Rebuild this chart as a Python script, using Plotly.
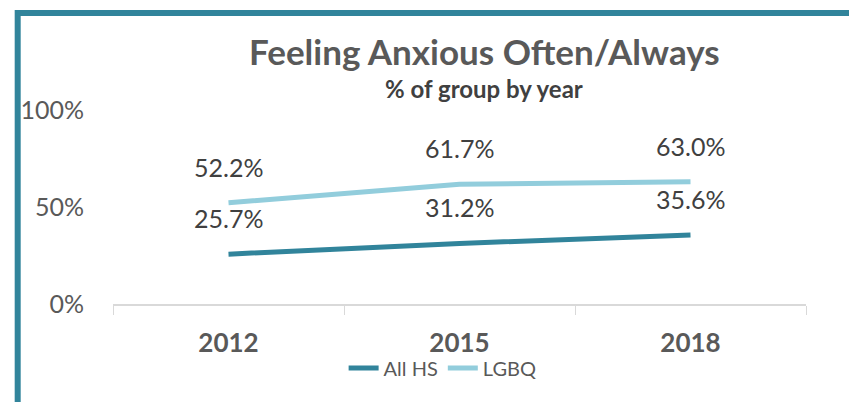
import plotly.graph_objects as go

years = ["2012", "2015", "2018"]
all_hs = [25.7, 31.2, 35.6]
lgbq = [52.2, 61.7, 63.0]
series_names = ["All HS", "LGBQ"]
y_ticks = [0, 50, 100]
y_tick_labels = ["0%", "50%", "100%"]

dark = "#31849B"
light = "#92CDDC"
FONT = "Lato, 'Open Sans', sans-serif"

# page offset (body margin in the viewer)
OFF = 8
W, H = 857, 402
# desired plot-area edges in page pixels
PL, PR, PT, PB = 108, 806, 110, 304
L, T = PL - OFF, PT - OFF
R = W - (PR - OFF)
B = H - (PB - OFF)
pw, ph = PR - PL, PB - PT
def px(xp): return (xp - PL) / pw
def py(yp): return (PB - yp) / ph

fig = go.Figure()
for name, vals, col in [(series_names[0], all_hs, dark), (series_names[1], lgbq, light)]:
    fig.add_trace(go.Scatter(x=years, y=vals, mode="lines", name=name,
                             line=dict(color=col, width=5), hoverinfo="skip"))
    for i, v in enumerate(vals):
        fig.add_annotation(x=i, y=v, xref="x", yref="y", text=f"{v:.1f}%", showarrow=False,
                           yshift=36, font=dict(family=FONT, size=25, color="#404040"))

fig.add_shape(type="path", xref="paper", yref="paper",
              path=f"M {px(12)} {py(420)} L {px(12)} {py(13)} L {px(870)} {py(13)}",
              line=dict(color=dark, width=6), layer="above")

fig.add_annotation(xref="paper", yref="paper", x=px(482), y=py(51), showarrow=False,
                   xanchor="center", yanchor="middle",
                   text="<b>Feeling Anxious Often/Always</b>",
                   font=dict(family=FONT, size=35, color="#595959"))
fig.add_annotation(xref="paper", yref="paper", x=px(482), y=py(89), showarrow=False,
                   xanchor="center", yanchor="middle",
                   text="<b>% of group by year</b>",
                   font=dict(family=FONT, size=24, color="#404040"))

fig.update_layout(
    width=W, height=H, paper_bgcolor="white", plot_bgcolor="white",
    margin=dict(l=L, r=R, t=T, b=B),
    showlegend=True,
    legend=dict(orientation="h", x=px(440), xanchor="center", y=py(368), yanchor="middle",
                bgcolor="rgba(0,0,0,0)",
                font=dict(family=FONT, size=20, color="#595959"),
                tracegroupgap=0),
    xaxis=dict(type="category", tickson="boundaries", ticks="outside", ticklen=9,
               tickcolor="#D9D9D9", showline=True, linecolor="#D9D9D9", linewidth=2,
               showgrid=False, range=[-0.5, 2.5], ticklabelstandoff=15,
               tickfont=dict(family=FONT, size=26, color="#595959"),
               tickprefix="<b>", ticksuffix="</b>"),
    yaxis=dict(range=[0, 100], tickvals=y_ticks, ticktext=y_tick_labels, showgrid=False,
               zeroline=False, ticks="", ticklabelstandoff=28,
               tickfont=dict(family=FONT, size=25, color="#595959")),
)
fig.write_html("out.html")
